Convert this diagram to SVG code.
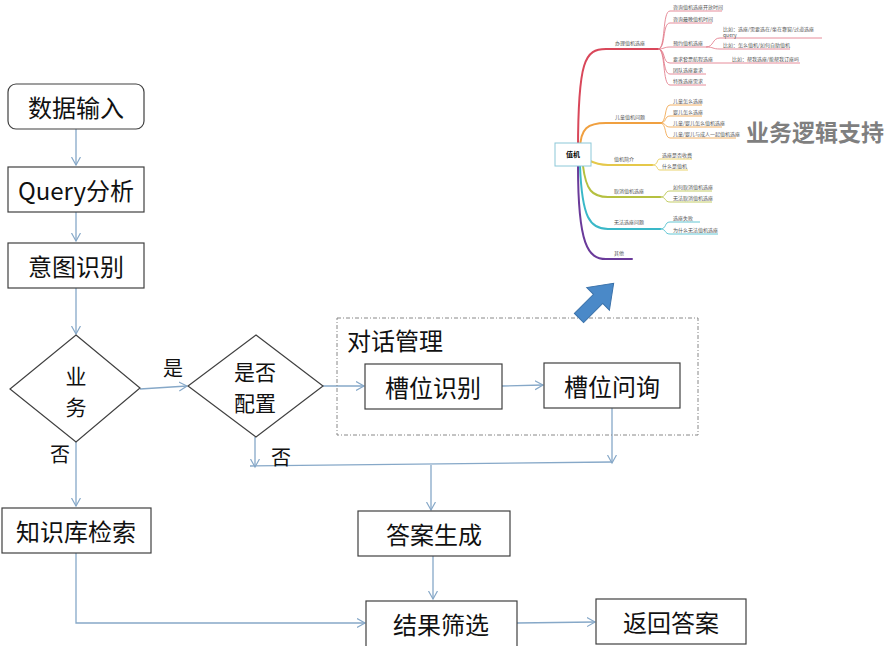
<svg xmlns="http://www.w3.org/2000/svg" width="895" height="646" viewBox="0 0 895 646">
<defs>
<marker id="arr" markerUnits="userSpaceOnUse" markerWidth="12" markerHeight="12" refX="8" refY="5" orient="auto">
<path d="M0,0.5 L8,5 L0,9.5" fill="none" stroke="#86a8c8" stroke-width="1.2"/>
</marker>
<style>
.box{fill:#fff;stroke:#404040;stroke-width:1.2}
.t{font-family:"Noto Sans CJK SC","Noto Sans",sans-serif;font-size:24px;fill:#111;text-anchor:middle;dominant-baseline:central}
.t2{font-family:"Noto Sans CJK SC","Noto Sans",sans-serif;font-size:21px;fill:#111;text-anchor:middle;dominant-baseline:central}
.lb{font-family:"Noto Sans CJK SC",sans-serif;font-size:20px;fill:#111;text-anchor:middle;dominant-baseline:central}
.c{fill:none;stroke:#86a8c8;stroke-width:1.3}
.m{font-family:"Noto Sans CJK SC",sans-serif;font-size:5px;fill:#555}
.br{fill:none;stroke-width:2;stroke-linecap:round}
.sb{fill:none;stroke-width:0.8}
</style>
</defs>
<rect width="895" height="646" fill="#fff"/>

<g id="connectors">
<path class="c" d="M76,129 V165" marker-end="url(#arr)"/>
<path class="c" d="M76,212 V241" marker-end="url(#arr)"/>
<path class="c" d="M76,288 V334" marker-end="url(#arr)"/>
<path class="c" d="M140,389 L187,386" marker-end="url(#arr)"/>
<path class="c" d="M323,386 L364,386" marker-end="url(#arr)"/>
<path class="c" d="M502,386 L543,385" marker-end="url(#arr)"/>
<path class="c" d="M76,442 V506" marker-end="url(#arr)"/>
<path class="c" d="M255,437 V467" marker-end="url(#arr)"/>
<path class="c" d="M250,466 L612,462"/>
<path class="c" d="M612,408 V463" marker-end="url(#arr)"/>
<path class="c" d="M431,465 V510" marker-end="url(#arr)"/>
<path class="c" d="M433,556 V599" marker-end="url(#arr)"/>
<path class="c" d="M76,553 V623 H365" marker-end="url(#arr)"/>
<path class="c" d="M517,623 L595,622" marker-end="url(#arr)"/>
<text class="lb" x="173" y="367">是</text>
<text class="lb" x="60" y="453">否</text>
<text class="lb" x="281" y="456">否</text>
</g>

<g id="n-input"><rect class="box" x="8" y="84" width="136" height="45" rx="8"/><text class="t" x="76" y="106">数据输入</text></g>
<g id="n-query"><rect class="box" x="8" y="167" width="136" height="45"/><text class="t" x="76" y="189">Query分析</text></g>
<g id="n-intent"><rect class="box" x="8" y="243" width="136" height="45"/><text class="t" x="76" y="265">意图识别</text></g>
<g id="n-biz"><polygon class="box" points="76,335 140,388 76,442 10,389"/><text class="t2" x="76" y="375">业</text><text class="t2" x="76" y="406">务</text></g>
<g id="n-config"><polygon class="box" points="256,335 323,386 256,437 188,386"/><text class="t2" x="255" y="371">是否</text><text class="t2" x="255" y="402">配置</text></g>
<g id="n-dialog"><rect x="337" y="318" width="361" height="117" fill="none" stroke="#888" stroke-width="1" stroke-dasharray="4,2,1,2"/><text class="t" x="347" y="339" style="text-anchor:start">对话管理</text></g>
<g id="n-slot"><rect class="box" x="365" y="364" width="137" height="45"/><text class="t" x="433" y="386">槽位识别</text></g>
<g id="n-ask"><rect class="box" x="544" y="363" width="136" height="45"/><text class="t" x="612" y="385">槽位问询</text></g>
<g id="n-kb"><rect class="box" x="2" y="508" width="149" height="45"/><text class="t" x="76" y="530">知识库检索</text></g>
<g id="n-gen"><rect class="box" x="358" y="511" width="152" height="45"/><text class="t" x="434" y="533">答案生成</text></g>
<g id="n-filter"><rect class="box" x="366" y="601" width="151" height="48"/><text class="t" x="441" y="623">结果筛选</text></g>
<g id="n-return"><rect class="box" x="596" y="599" width="150" height="45"/><text class="t" x="671" y="621">返回答案</text></g>

<g id="n-bigarrow">
<path transform="translate(579,318) rotate(-45)" d="M0,-6.5 H27 V-16 L49,0 L27,16 V6.5 H0 Z" fill="#4a89c8" stroke="#3b72aa" stroke-width="1"/>
</g>

<g id="n-mindmap">
<path class="br" stroke="#d9475a" d="M578,150 C578,60 585,49 606,49 L658,49"/>
<path class="br" stroke="#f0a040" d="M580,150 C580,128 588,123 606,123 L660,123"/>
<path class="br" stroke="#e5c84a" d="M588,160 C596,164 600,165 608,165 L652,165"/>
<path class="br" stroke="#b5c040" d="M583,166 C586,190 592,197 608,197 L660,197"/>
<path class="br" stroke="#3ab8c8" d="M580,166 C582,218 590,229 608,229 L660,229"/>
<path class="br" stroke="#6a3a9a" d="M578,166 C578,245 588,259 606,259 L632,259"/>
<rect x="555" y="143" width="36" height="23" fill="#fff" stroke="#8cc8d8" stroke-width="1"/>
<text x="573" y="157" style="font-family:'Noto Sans CJK SC',sans-serif;font-size:7px;font-weight:bold;text-anchor:middle">值机</text>

<text class="m" x="615" y="45">办理值机选座</text>
<text class="m" x="615" y="119">儿童值机问题</text>
<text class="m" x="614" y="161">值机简介</text>
<text class="m" x="614" y="193">取消值机选座</text>
<text class="m" x="614" y="224">无法选座问题</text>
<text class="m" x="614" y="255">其他</text>

<g stroke="#e07080">
<path class="sb" d="M658,49 C666,49 662,11 670,11 H722"/>
<path class="sb" d="M658,49 C666,49 662,23 670,23 H712"/>
<path class="sb" d="M658,49 C664,49 664,47 670,47 H706"/>
<path class="sb" d="M658,49 C666,49 662,63 670,63 H800"/>
<path class="sb" d="M658,49 C666,49 662,74 670,74 H706"/>
<path class="sb" d="M658,49 C666,49 662,85 670,85 H706"/>
<path class="sb" d="M706,47 C714,47 712,38 720,38 H822"/>
<path class="sb" d="M706,47 C714,47 712,49 720,49 H790"/>
</g>
<text class="m" x="673" y="9">咨询值机选座开放时间</text>
<text class="m" x="673" y="21">咨询最晚值机时间</text>
<text class="m" x="673" y="45">预约值机选座</text>
<text class="m" x="673" y="61">要求套票航程选座</text>
<text class="m" x="673" y="72">团队选座要求</text>
<text class="m" x="673" y="83">特殊选座需求</text>
<text class="m" x="723" y="31">比如：选座/需要选在/坐在靠窗/过道选座</text>
<text class="m" x="723" y="36.5">query</text>
<text class="m" x="723" y="47">比如：怎么值机/如何自助值机</text>
<text class="m" x="732" y="61">比如：帮我选座/能帮我订座吗</text>

<g stroke="#f0a040">
<path class="sb" d="M660,123 C667,123 664,105 670,105 H702"/>
<path class="sb" d="M660,123 C667,123 664,116 670,116 H702"/>
<path class="sb" d="M660,123 C667,123 664,127 670,127 H722"/>
<path class="sb" d="M660,123 C667,123 664,138 670,138 H736"/>
</g>
<text class="m" x="673" y="103">儿童怎么选座</text>
<text class="m" x="673" y="114">婴儿怎么选座</text>
<text class="m" x="673" y="125">儿童/婴儿怎么值机选座</text>
<text class="m" x="673" y="136">儿童/婴儿与成人一起值机选座</text>

<g stroke="#e5c84a">
<path class="sb" d="M652,165 C659,165 656,159 660,159 H692"/>
<path class="sb" d="M652,165 C659,165 656,170 660,170 H688"/>
</g>
<text class="m" x="662" y="157">选座是否收费</text>
<text class="m" x="662" y="168">什么是值机</text>

<g stroke="#b5c040">
<path class="sb" d="M660,197 C667,197 664,191 670,191 H712"/>
<path class="sb" d="M660,197 C667,197 664,202 670,202 H712"/>
</g>
<text class="m" x="673" y="189">如何取消值机选座</text>
<text class="m" x="673" y="200">无法取消值机选座</text>

<g stroke="#3ab8c8">
<path class="sb" d="M660,229 C667,229 664,222 670,222 H700"/>
<path class="sb" d="M660,229 C667,229 664,234 670,234 H718"/>
</g>
<text class="m" x="673" y="220">选座失败</text>
<text class="m" x="673" y="232">为什么无法值机选座</text>
</g>

<g id="n-support"><text x="815" y="131" style="font-family:'Noto Sans CJK SC',sans-serif;font-size:23px;font-weight:bold;fill:#7f7f7f;text-anchor:middle;dominant-baseline:central">业务逻辑支持</text></g>
</svg>
